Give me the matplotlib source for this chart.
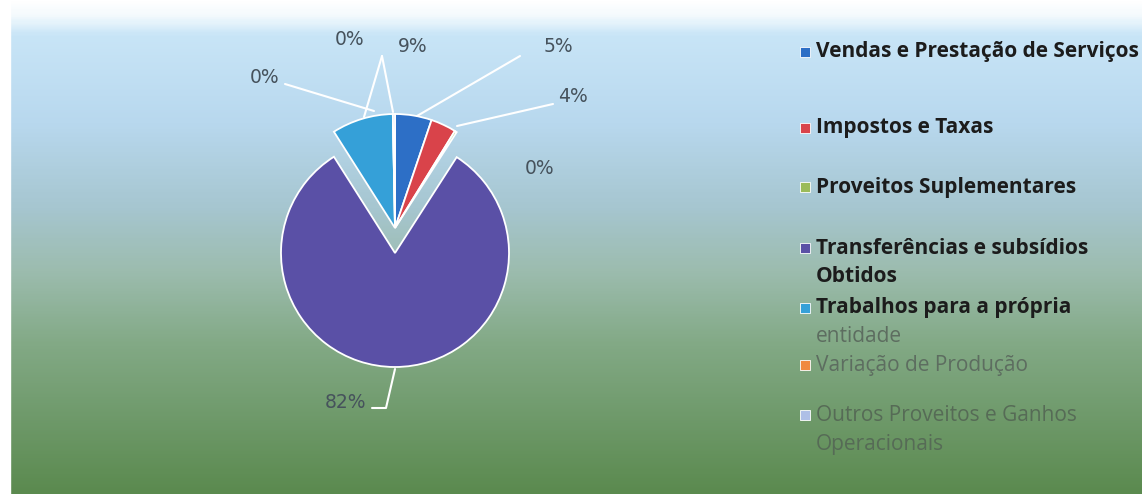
import numpy as np
import matplotlib
matplotlib.use("Agg")
import matplotlib.pyplot as plt
from matplotlib.colors import LinearSegmentedColormap
from matplotlib.patches import Rectangle

# revenue breakdown (% of total)
categories = [
    "Vendas e Prestação de Serviços",
    "Impostos e Taxas",
    "Proveitos Suplementares",
    "Transferências e subsídios\nObtidos",
    "Trabalhos para a própria\nentidade",
    "Variação de Produção",
    "Outros Proveitos e Ganhos\nOperacionais",
]
shares = [5.2, 3.6, 0.3, 81.9, 8.7, 0.0, 0.3]
slice_colors = ["#2d6fc6", "#d9434a", "#9bbb59", "#5a50a6", "#35a0d8", "#f08a40", "#aebfe6"]

W, H = 1142, 494
fig = plt.figure(figsize=(W / 100, H / 100), dpi=100)
ax = fig.add_axes([0, 0, 1, 1])

# vertical background gradient: light sky blue on top, green at the bottom
bg = LinearSegmentedColormap.from_list("bg", [
    (0.00, "#ffffff"),
    (0.03, "#f4fafd"),
    (0.07, "#c8e5f7"),
    (0.25, "#b8d8ee"),
    (0.42, "#a6c6d0"),
    (0.55, "#9cbcae"),
    (0.70, "#82a985"),
    (1.00, "#5b8a4f"),
])
grad = np.linspace(0, 1, 300).reshape(-1, 1)
ax.imshow(grad, cmap=bg, aspect="auto", extent=(0, W, 0, H), origin="upper", zorder=0)
ax.add_patch(Rectangle((0, 0), 10, H, color="white", zorder=1))

cx, cy, r = 395, H - 253, 114
wedges, _ = ax.pie(shares, colors=slice_colors, startangle=90, counterclock=False,
                   center=(cx, cy), radius=r,
                   wedgeprops=dict(edgecolor="white", linewidth=1.3))
# pull the small slices out as one block
for i, w in enumerate(wedges):
    w.set_zorder(3)
    if i != 3:
        w.set_center((cx, H - 228))

ax.set_xlim(0, W)
ax.set_ylim(0, H)
ax.set_aspect("equal")
ax.axis("off")

# data labels: text centre and leader line (start, end), in image pixels
lbl_font = dict(fontsize=13.5, color="#46525c", family="DejaVu Sans",
                ha="center", va="center", zorder=5)
lbl_pos = {
    0: ((558, 47), [(520, 56), (417, 116)]),
    1: ((573, 97), [(553, 104), (457, 126)]),
    2: ((540, 168), None),
    3: ((345, 402), [(372, 408), (386, 408), (395, 369)]),
    4: ((413, 47), [(382, 56), (364, 117)]),
    5: ((350, 40), [(382, 56), (393, 112)]),
    6: ((265, 78), [(285, 84), (374, 111)]),
}
for i, ((tx, ty), leader) in lbl_pos.items():
    ax.text(tx, H - ty, f"{shares[i]:.0f}%", **lbl_font)
    if leader is not None:
        xs, ys = zip(*leader)
        ax.plot(xs, [H - v for v in ys], color="white", lw=1.5, zorder=4,
                solid_capstyle="round")

# legend drawn by hand to keep the uneven row layout
leg_y = [52, 128, 187, 248, 308, 365, 415]
leg_col = ["#1c1c1c", "#1c1c1c", "#1c1c1c", "#1c1c1c", "#1c1c1c", "#5d6d60", "#566b56"]
for i, name in enumerate(categories):
    y = H - leg_y[i]
    ax.add_patch(Rectangle((800, y - 5), 10, 10, facecolor=slice_colors[i],
                           edgecolor="white", lw=0.6, zorder=4))
    for k, part in enumerate(name.split("\n")):
        c = leg_col[i]
        weight = "bold" if i < 5 else "normal"
        if i == 4 and k == 1:
            c, weight = "#5d6d60", "normal"
        ax.text(816, y - k * 29, part, fontsize=15, fontweight=weight, family="Open Sans",
                color=c, ha="left", va="center", zorder=5)

fig.savefig("out.png", dpi=100)
